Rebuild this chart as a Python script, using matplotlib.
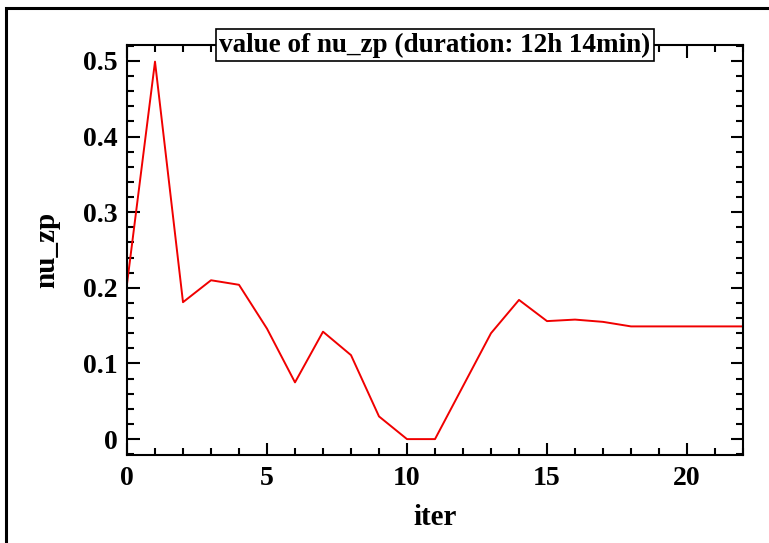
import matplotlib
matplotlib.use("Agg")
import matplotlib.pyplot as plt
from matplotlib.patches import Rectangle
from matplotlib.ticker import MultipleLocator

# values
iters = list(range(23))
nu_zp = [0.205, 0.499, 0.181, 0.210, 0.204, 0.146, 0.075, 0.142, 0.111, 0.030,
         0.0, 0.0, 0.070, 0.140, 0.184, 0.156, 0.158, 0.155, 0.149, 0.149,
         0.149, 0.149, 0.149]

title = "value of nu_zp (duration: 12h 14min)"

plt.rcParams['font.family'] = ['Liberation Serif', 'DejaVu Serif']
plt.rcParams['font.weight'] = 'bold'

fig = plt.figure(figsize=(7.69, 5.43), dpi=100)
ax = fig.add_axes([127 / 769, 1 - 455 / 543, 616 / 769, 410 / 543])

ax.plot(iters, nu_zp, color='#f00000', lw=1.4)
ax.set_xlim(0, 22)
ax.set_ylim(-0.021, 0.521)

ax.xaxis.set_major_locator(MultipleLocator(5))
ax.xaxis.set_minor_locator(MultipleLocator(1))
ax.yaxis.set_major_locator(MultipleLocator(0.1))
ax.yaxis.set_minor_locator(MultipleLocator(0.02))
ax.yaxis.set_major_formatter(plt.FuncFormatter(lambda v, p: "0" if abs(v) < 1e-9 else f"{v:.1f}"))

ax.tick_params(which='both', direction='in', top=True, right=True, width=1.5)
ax.tick_params(which='major', length=9, labelsize=20)
ax.tick_params(which='minor', length=5)
ax.tick_params(axis='x', pad=8)
ax.tick_params(axis='y', pad=7)
for lab in ax.get_xticklabels() + ax.get_yticklabels():
    lab.set_fontweight('bold')
for s in ax.spines.values():
    s.set_linewidth(1.5)

ax.set_xlabel("iter", fontsize=21, fontweight='bold', labelpad=9)
ax.set_ylabel("nu_zp", fontsize=21, fontweight='bold', labelpad=16)

ax.text(0.5, 1.0, title, transform=ax.transAxes, ha='center', va='center',
        fontsize=19.5, fontweight='bold', zorder=5,
        bbox=dict(boxstyle='square,pad=0.12', fc='white', ec='black', lw=1.2))

# outer frame (partly outside the picture)
fig.patches.append(Rectangle((6 / 769, -0.1), 1.1, 1 - 8 / 543 + 0.1,
                             transform=fig.transFigure, fill=False,
                             ec='black', lw=2.2))

fig.savefig("out.png", dpi=100)
